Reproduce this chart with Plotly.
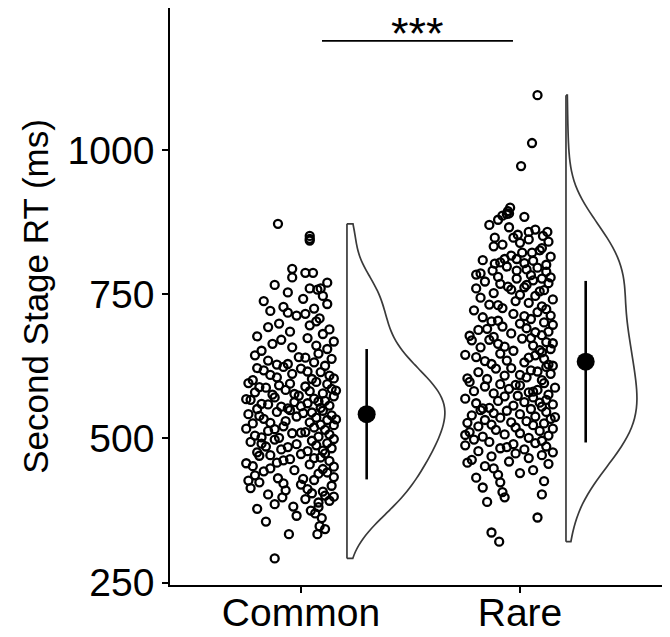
import plotly.graph_objects as go

# ---------------- data ----------------
categories = ["Common", "Rare"]
cat_pos = [1, 2]

common_rt = [292,
             334, 334, 343, 348,
             362, 370, 375, 356, 366,
             382, 389, 381, 398, 392, 378, 395, 386, 399,
             401, 410, 422, 405, 414, 418, 403, 420, 408, 424, 412,
             431, 428, 436, 441, 445, 433, 448, 427, 439, 443, 430, 447,
             452, 455, 458, 461, 464, 467, 470, 473, 451, 457, 462, 466, 471, 474,
             476, 478, 481, 483, 486, 488, 490, 492, 494, 496, 498, 479, 485, 491, 499,
             501, 503, 505, 507, 509, 511, 513, 515, 517, 519, 521, 523, 502, 510, 516, 524,
             526, 528, 530, 532, 534, 536, 538, 540, 542, 544, 546, 548, 527, 533, 539, 545, 549,
             551, 553, 555, 557, 559, 561, 563, 565, 567, 569, 571, 573, 552, 556, 560, 564, 568, 574,
             576, 578, 580, 582, 584, 586, 588, 590, 592, 594, 596, 598, 577, 583, 589, 595,
             601, 603, 606, 609, 612, 615, 618, 621, 624, 604, 610, 616, 622,
             626, 629, 632, 635, 638, 641, 644, 647, 628, 640,
             652, 655, 658, 661, 664, 668, 671, 674,
             677, 681, 685, 689, 693, 696, 699,
             703, 708, 713, 716, 718, 721, 725,
             728, 733, 738, 742, 747,
             753, 758, 760, 760, 766, 770,
             779, 787, 787, 794,
             843, 846,
             851, 872]

common_jitter = [-0.12,
                 -0.055, 0.075, 0.11, 0.085,
                 0.095, 0.065, 0.045, -0.16, -0.02,
                 -0.035, 0.08, 0.08, -0.085, 0.13, -0.2, 0.02, -0.12, 0.15,
                 0.11, -0.07, -0.08, 0.05, -0.23, 0.14, -0.15, 0.0, 0.1, -0.19, 0.03,
                 -0.105, 0.06, -0.21, 0.12, -0.03, 0.15, -0.14, -0.24, 0.08, -0.17, 0.01, 0.1,
                 -0.22, 0.04, -0.11, 0.13, -0.05, 0.09, -0.19, 0.0, 0.15, -0.25, -0.08, 0.06, -0.14, 0.11,
                 -0.2, 0.03, -0.09, 0.14, -0.16, 0.07, -0.02, 0.12, -0.23, 0.05, -0.12, 0.1, -0.06, -0.18, 0.15,
                 -0.1, 0.08, -0.21, 0.13, -0.04, 0.02, -0.15, 0.11, -0.25, 0.06, -0.08, 0.15, -0.18, 0.0, -0.12, 0.09,
                 -0.22, 0.04, -0.07, 0.12, -0.17, 0.07, -0.02, 0.14, -0.24, 0.01, -0.11, 0.1, -0.14, 0.16, -0.19, 0.05, -0.05,
                 -0.2, 0.09, -0.09, 0.13, -0.15, 0.03, -0.03, 0.11, -0.23, 0.06, -0.12, 0.15, -0.06, 0.0, -0.18, 0.08, -0.25, -0.01,
                 -0.13, 0.1, -0.21, 0.04, -0.07, 0.14, -0.16, 0.02, -0.1, 0.12, -0.24, 0.07, -0.03, 0.16, -0.19, -0.05,
                 -0.22, 0.05, -0.11, 0.13, -0.04, 0.09, -0.17, 0.0, -0.08, 0.15, -0.14, 0.03, -0.2,
                 0.11, -0.06, 0.06, -0.15, 0.14, -0.01, -0.21, 0.08, -0.11, 0.02,
                 -0.18, 0.12, -0.04, 0.07, -0.13, 0.15, -0.09, 0.03,
                 -0.2, 0.1, -0.05, 0.13, -0.15, 0.04, -0.1,
                 0.07, 0.085, -0.02, 0.02, -0.06, -0.14, 0.06,
                 -0.08, 0.12, -0.17, 0.01, 0.1,
                 -0.06, 0.075, 0.04, 0.09, -0.12, 0.12,
                 -0.04, 0.02, 0.055, -0.04,
                 0.04, 0.04,
                 0.04, -0.105]

rare_rt = [321,
           337,
           363,
           398, 390,
           403, 407, 424, 415,
           426, 448, 432, 440, 437, 445,
           452, 456, 460, 463, 466, 469, 471, 474, 458,
           476, 478, 481, 483, 486, 488, 490, 492, 494, 496, 498, 485,
           501, 503, 505, 507, 509, 511, 513, 515, 517, 519, 521, 523, 524, 506,
           526, 528, 530, 532, 534, 536, 538, 540, 542, 544, 546, 548, 527, 537, 549,
           551, 553, 555, 557, 559, 561, 563, 565, 567, 569, 571, 573, 552, 562, 574,
           576, 578, 580, 582, 584, 586, 588, 590, 592, 594, 596, 598, 581, 593,
           601, 603, 606, 609, 612, 615, 618, 621, 624, 604, 610, 616, 622,
           626, 629, 632, 635, 638, 641, 644, 647, 628, 634, 640, 645, 649,
           652, 655, 658, 661, 664, 667, 670, 673, 653, 659, 665, 671, 674,
           676, 679, 682, 685, 688, 691, 694, 697, 678, 684, 690, 699,
           701, 704, 707, 710, 713, 716, 719, 722, 703, 712, 724,
           726, 729, 732, 735, 738, 741, 744, 747, 731, 749,
           752, 755, 758, 763, 766, 769, 772, 774, 760, 757,
           777, 777, 780, 783, 786, 789, 791, 791, 796, 798,
           803, 804, 805, 808, 811, 811, 815, 822, 822,
           848, 848, 830, 836, 841, 845,
           853, 858, 851, 858, 866,
           900, 889, 886, 894, 890, 884, 879,
           972,
           1012,
           1095,
           762, 768, 779, 784, 793, 801, 809, 817, 826, 833, 839, 862, 870]

rare_jitter = [-0.095,
               -0.13,
               0.08,
               -0.07, -0.15,
               0.1, -0.08, -0.09, -0.17,
               0.11, -0.12, -0.2, 0.0, -0.1, 0.06,
               -0.16, 0.13, -0.05, -0.22, 0.04, -0.13, 0.1, -0.02, -0.24,
               0.15, -0.19, 0.02, -0.09, 0.12, -0.25, -0.03, 0.07, -0.14, 0.1, -0.21, -0.06,
               0.04, -0.17, 0.13, -0.07, 0.0, -0.23, 0.09, -0.11, 0.15, -0.02, -0.19, 0.06, -0.13, -0.25,
               0.11, -0.04, 0.03, -0.16, 0.14, -0.09, 0.07, -0.22, 0.0, -0.12, 0.12, -0.06, -0.24, 0.16, -0.18,
               0.05, -0.14, 0.1, -0.03, 0.15, -0.2, 0.02, -0.1, 0.12, -0.25, 0.06, -0.07, -0.17, 0.09, -0.01,
               0.13, -0.12, 0.04, -0.21, 0.08, -0.05, 0.16, -0.16, 0.0, -0.09, 0.11, -0.23, 0.06, -0.02,
               0.1, -0.15, 0.03, -0.07, 0.14, -0.19, 0.05, -0.11, 0.12, -0.24, 0.0, 0.08, -0.04,
               0.15, -0.13, 0.02, -0.06, 0.11, -0.2, 0.07, -0.09, 0.13, -0.16, 0.04, -0.25, 0.1,
               -0.03, 0.14, -0.18, 0.06, -0.1, 0.12, -0.22, 0.01, 0.09, -0.07, 0.15, -0.14, 0.05,
               -0.12, 0.1, -0.04, 0.13, -0.19, 0.03, -0.08, 0.15, -0.23, 0.07, -0.15, 0.0,
               0.11, -0.1, 0.05, -0.17, 0.14, -0.03, 0.08, -0.21, -0.13, 0.02, 0.12,
               -0.08, 0.1, -0.14, 0.04, -0.02, 0.15, -0.18, 0.07, -0.1, 0.0,
               -0.12, 0.09, -0.04, -0.055, 0.03, 0.13, -0.16, 0.06, -0.2, 0.11,
               -0.015, 0.1, -0.1, 0.05, -0.18, 0.12, -0.125, -0.015, 0.08, -0.06,
               -0.115, 0.02, -0.09, 0.06, -0.015, -0.07, 0.14, 0.01, 0.055,
               -0.115, -0.03, 0.1, -0.08, 0.13, 0.04,
               -0.01, 0.04, 0.105, 0.125, -0.05,
               -0.045, -0.06, -0.08, -0.055, -0.05, 0.02, -0.1,
               0.005,
               0.055,
               0.08,
               0.02, -0.09, 0.14, -0.2, 0.03, 0.12, -0.17, -0.04, 0.09, -0.12, 0.0, 0.07, -0.14]

# summary values (mean and SD error bars)
group_mean = [542, 633]
group_sd = [113, 140]

# significance annotation
sig_label = "***"
sig_y = 1189
sig_x = [1.096, 1.968]

y_ticks = [250, 500, 750, 1000]

# ---------------- styling / layout constants ----------------
FONT = "Liberation Sans, Arial, Helvetica, sans-serif"
VIOLIN_SHIFT = 0.21
MEAN_SHIFT = 0.30
violin_widths = [0.894, 0.648]
bandwidths = [35, 50]
VIOLIN_LINE = dict(color="#3a3a3a", width=1.7)

fig = go.Figure()

groups = [(common_rt, common_jitter), (rare_rt, rare_jitter)]

for i, (rt, jit) in enumerate(groups):
    base_x = cat_pos[i] + VIOLIN_SHIFT
    # half violin (density cloud)
    fig.add_trace(go.Violin(
        x0=base_x,
        y=rt,
        side="positive",
        width=violin_widths[i],
        bandwidth=bandwidths[i],
        spanmode="hard",
        points=False,
        fillcolor="white",
        line=VIOLIN_LINE,
        box_visible=False,
        meanline_visible=False,
        hoverinfo="skip",
        showlegend=False,
        orientation="v",
    ))
    # flat base edge of the half violin, spanning the data range
    fig.add_trace(go.Scatter(
        x=[base_x, base_x],
        y=[min(rt), max(rt)],
        mode="lines",
        line=VIOLIN_LINE,
        showlegend=False,
        hoverinfo="skip",
    ))

for i, (rt, jit) in enumerate(groups):
    # jittered raw points ("rain")
    fig.add_trace(go.Scatter(
        x=[cat_pos[i] + j for j in jit],
        y=rt,
        mode="markers",
        marker=dict(symbol="circle-open", size=8, color="black",
                    line=dict(width=2.3, color="black")),
        showlegend=False,
        hoverinfo="skip",
    ))

# mean +/- SD
fig.add_trace(go.Scatter(
    x=[p + MEAN_SHIFT for p in cat_pos],
    y=group_mean,
    mode="markers",
    marker=dict(symbol="circle", size=18, color="black"),
    error_y=dict(type="data", array=group_sd, visible=True,
                 color="black", thickness=2.6, width=0),
    showlegend=False,
    hoverinfo="skip",
))

# significance bar
fig.add_shape(type="line", xref="x", yref="y",
              x0=sig_x[0], x1=sig_x[1], y0=sig_y, y1=sig_y,
              line=dict(color="black", width=1.7))
fig.add_annotation(x=(sig_x[0] + sig_x[1]) / 2, y=1201, xref="x", yref="y",
                   text=sig_label, showarrow=False, yanchor="middle",
                   font=dict(family=FONT, size=45, color="black"))

# the page body adds an 8 px offset, so the figure is sized to fit the window
fig.update_layout(
    width=662, height=629,
    margin=dict(l=162, r=7, t=0, b=52),
    paper_bgcolor="white", plot_bgcolor="white",
    violinmode="overlay",
    font=dict(family=FONT, color="black"),
)

fig.update_xaxes(
    range=[0.402, 2.653],
    tickvals=cat_pos, ticktext=categories,
    showgrid=False, zeroline=False, automargin=False,
    showline=True, linecolor="black", linewidth=1.7,
    ticks="outside", ticklen=6, tickwidth=1.7, tickcolor="black",
    ticklabelstandoff=-14,
    tickfont=dict(family=FONT, size=39, color="black"),
)

fig.update_yaxes(
    range=[246, 1246],
    tickvals=y_ticks,
    showgrid=False, zeroline=False, automargin=False,
    showline=True, linecolor="black", linewidth=1.7,
    ticks="outside", ticklen=6, tickwidth=1.7, tickcolor="black",
    tickfont=dict(family=FONT, size=39, color="black"),
    title=dict(text="Second Stage RT (ms)", standoff=8,
               font=dict(family=FONT, size=35, color="black")),
)

fig.write_html("out.html")
